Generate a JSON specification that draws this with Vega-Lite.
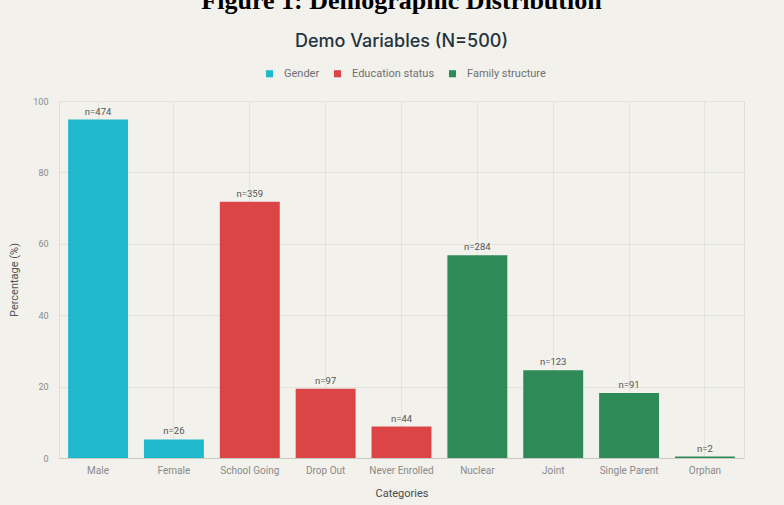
{
  "$schema": "https://vega.github.io/schema/vega-lite/v6.json",
  "width": 685,
  "height": 357,
  "autosize": {"type": "none"},
  "padding": {"left": 59, "top": 101, "right": 40, "bottom": 47},
  "background": "#f2f1ec",
  "title": {
    "text": "Figure 1: Demographic Distribution",
    "subtitle": "Demo Variables (N=500)",
    "anchor": "middle",
    "frame": "group",
    "font": "Liberation Serif",
    "fontSize": 26,
    "fontWeight": "bold",
    "color": "#000000",
    "subtitleFont": "Inter",
    "subtitleFontSize": 18,
    "subtitleFontWeight": 500,
    "subtitleColor": "#24333d",
    "subtitlePadding": 19,
    "offset": 17
  },
  "data": {
    "values": [
      {"category": "Male", "group": "Gender", "pct": 94.8, "label": "n=474"},
      {"category": "Female", "group": "Gender", "pct": 5.2, "label": "n=26"},
      {"category": "School Going", "group": "Education status", "pct": 71.8, "label": "n=359"},
      {"category": "Drop Out", "group": "Education status", "pct": 19.4, "label": "n=97"},
      {"category": "Never Enrolled", "group": "Education status", "pct": 8.8, "label": "n=44"},
      {"category": "Nuclear", "group": "Family structure", "pct": 56.8, "label": "n=284"},
      {"category": "Joint", "group": "Family structure", "pct": 24.6, "label": "n=123"},
      {"category": "Single Parent", "group": "Family structure", "pct": 18.2, "label": "n=91"},
      {"category": "Orphan", "group": "Family structure", "pct": 0.4, "label": "n=2"}
    ]
  },
  "encoding": {
    "x": {
      "field": "category",
      "type": "nominal",
      "sort": null,
      "scale": {"paddingInner": 0.21, "paddingOuter": 0.12},
      "axis": {
        "title": "Categories",
        "labelAngle": 0,
        "ticks": false,
        "domain": true,
        "domainColor": "#c9c9c4",
        "grid": true,
        "gridColor": "#e3e3de",
        "bandPosition": 0.5,
        "labelPadding": 7,
        "labelFont": "Roboto",
        "labelFontSize": 10,
        "labelColor": "#8a8a8a",
        "titleFont": "Roboto",
        "titleFontSize": 11,
        "titleFontWeight": "normal",
        "titleColor": "#4a4a4a",
        "titlePadding": 12
      }
    },
    "y": {
      "field": "pct",
      "type": "quantitative",
      "scale": {"domain": [0, 100]},
      "axis": {
        "title": "Percentage (%)",
        "values": [0, 20, 40, 60, 80, 100],
        "ticks": false,
        "domain": false,
        "grid": true,
        "gridColor": "#e3e3de",
        "labelPadding": 11,
        "labelFont": "Roboto",
        "labelFontSize": 9,
        "labelColor": "#8a8a8a",
        "titleFont": "Roboto",
        "titleFontSize": 11,
        "titleFontWeight": "normal",
        "titleColor": "#555555",
        "titlePadding": 13
      }
    }
  },
  "layer": [
    {
      "mark": {"type": "bar"},
      "encoding": {
        "color": {
          "field": "group",
          "type": "nominal",
          "scale": {
            "domain": ["Gender", "Education status", "Family structure"],
            "range": ["#1FB8CD", "#DB4545", "#2E8B57"]
          },
          "legend": {
            "title": null,
            "orient": "none",
            "direction": "horizontal",
            "legendX": 205,
            "legendY": -33,
            "symbolType": "square",
            "symbolSize": 50,
            "symbolStrokeWidth": 0,
            "labelFont": "Roboto",
            "labelFontSize": 11,
            "labelColor": "#707070",
            "labelOffset": 9,
            "columnPadding": 12
          }
        }
      }
    },
    {
      "mark": {"type": "text", "baseline": "bottom", "dy": -3, "font": "Roboto", "fontSize": 9.5, "color": "#555555"},
      "encoding": {
        "text": {"field": "label", "type": "nominal"}
      }
    }
  ]
}
